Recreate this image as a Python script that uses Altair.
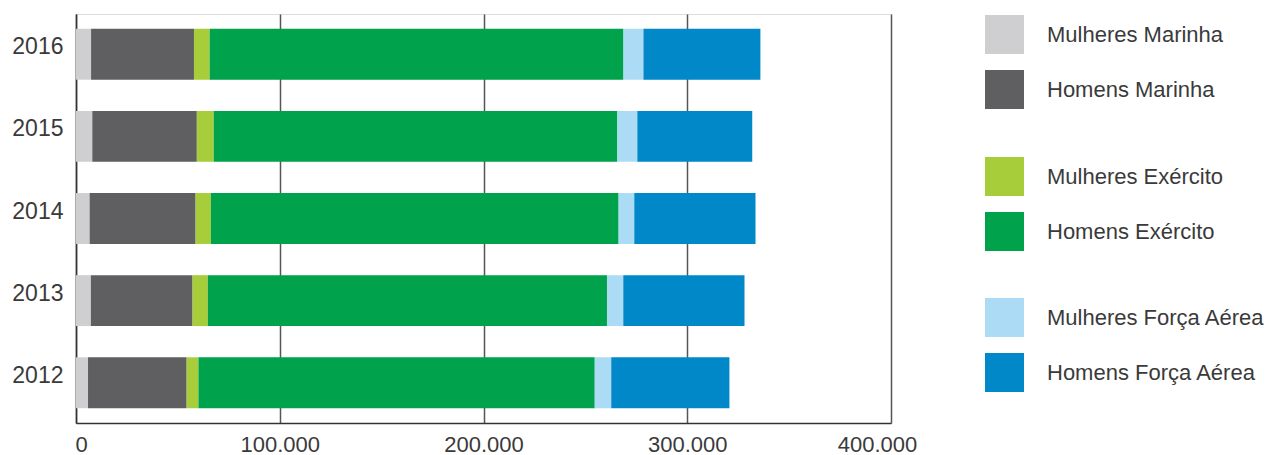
import altair as alt
import pandas as pd

years = [2012, 2013, 2014, 2015, 2016]
categories = ["Mulheres Marinha", "Homens Marinha",
              "Mulheres Exército", "Homens Exército",
              "Mulheres Força Aérea", "Homens Força Aérea"]
branches = ["Marinha", "Marinha", "Exército", "Exército", "Força Aérea", "Força Aérea"]
colors = ["#cfcfd1", "#5f5f62", "#a8cd3a", "#00a24b", "#acdcf5", "#0088c9"]

mulheres_marinha = [5900, 7300, 6700, 8000, 7400]
homens_marinha = [48400, 49900, 52000, 51300, 50500]
mulheres_exercito = [5800, 7500, 7500, 8300, 7700]
homens_exercito = [194500, 195900, 200100, 198100, 203100]
mulheres_fa = [8100, 8000, 7700, 9800, 9800]
homens_fa = [58000, 59500, 59500, 56400, 57400]

series = [mulheres_marinha, homens_marinha, mulheres_exercito,
          homens_exercito, mulheres_fa, homens_fa]

rows = []
for i, (cat, br, vals) in enumerate(zip(categories, branches, series)):
    for y, v in zip(years, vals):
        rows.append({"year": str(y), "category": cat, "branch": br,
                     "order": i, "value": v})
df = pd.DataFrame(rows)

FONT = "Liberation Sans"
TXT = "#3a3a3a"

base = alt.Chart(df).transform_stack(
    stack="value", groupby=["year"], sort=[alt.SortField("order")],
    as_=["start", "end"]
)

x_enc = alt.X("start:Q", title=None,
              scale=alt.Scale(domain=[0, 400000], nice=False),
              axis=alt.Axis(values=[0, 100000, 200000, 300000, 400000],
                            labelExpr="replace(format(datum.value, ','), ',', '.')",
                            grid=True, gridColor="#555555", gridWidth=1.5,
                            ticks=False, tickSize=0, labelFlush=False,
                            labelOffset={"condition": [
                                {"test": "datum.value == 0", "value": 5},
                                {"test": "datum.value == 400000", "value": -14}],
                                "value": 0},
                            labelPadding=11, labelFontSize=22, labelFont=FONT,
                            labelColor=TXT, domainColor="#333333", domainWidth=1.5))
y_enc = alt.Y("year:O", title=None, sort="descending",
              scale=alt.Scale(paddingInner=0.38, paddingOuter=0.18),
              axis=alt.Axis(ticks=False, tickSize=0, labelPadding=13,
                            labelOffset=-7,
                            labelFontSize=23, labelFont=FONT, labelColor=TXT,
                            domainColor="#333333", domainWidth=1.5, grid=False))

legend_ys = [1, 143, 284]
layers = []
for k, br in enumerate(["Marinha", "Exército", "Força Aérea"]):
    dom = categories[2 * k:2 * k + 2]
    rng = colors[2 * k:2 * k + 2]
    layer = base.transform_filter(alt.datum.branch == br).mark_bar().encode(
        x=x_enc,
        x2="end:Q",
        y=y_enc,
        color=alt.Color("category:N",
                        scale=alt.Scale(domain=dom, range=rng),
                        legend=alt.Legend(title=None, orient="none",
                                          legendX=909, legendY=legend_ys[k],
                                          symbolType="square", symbolSize=1521,
                                          symbolStrokeWidth=0, rowPadding=16,
                                          labelOffset=23, labelFontSize=22,
                                          labelFont=FONT, labelColor=TXT,
                                          padding=0, labelLimit=400)),
    )
    layers.append(layer)

chart = alt.layer(*layers).resolve_scale(color="independent").properties(
    width=815, height=409,
    autosize=alt.AutoSizeParams(type="none"),
    padding={"left": 76, "top": 14, "right": 378, "bottom": 32},
).configure_view(strokeWidth=0).configure(background="white")

chart.save("out.html", embed_options={"renderer": "svg", "actions": False})
